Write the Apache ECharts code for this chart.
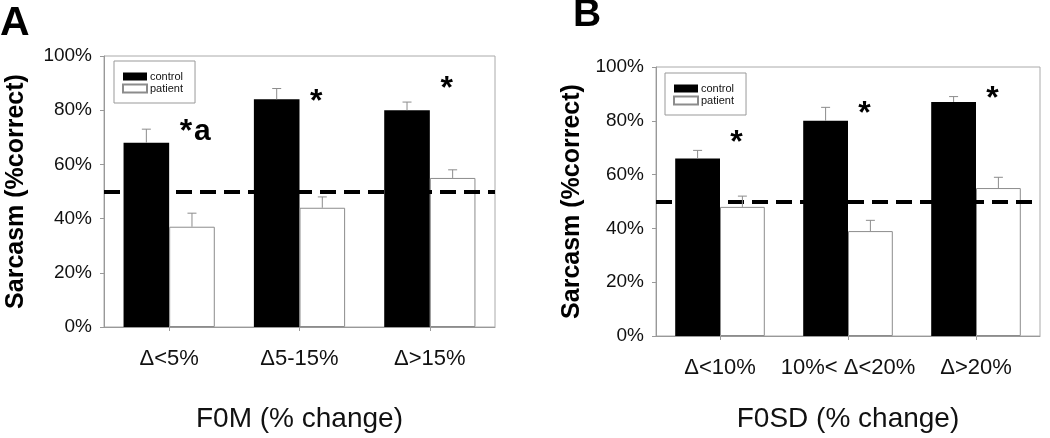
<!DOCTYPE html>
<html>
<head>
<meta charset="utf-8">
<script src="https://cdn.jsdelivr.net/npm/echarts@6/dist/echarts.min.js"></script>
<style>
html,body{margin:0;padding:0;background:#fff;}
#c{width:1050px;height:438px;}
</style>
</head>
<body>
<div id="c"></div>
<script>
// ---- data ----
const catsA = ['Δ<5%', 'Δ5-15%', 'Δ>15%'];
const controlA = [68, 84, 80];
const controlA_errTop = [73, 88, 83];
const patientA = [37, 44, 55];
const patientA_errTop = [42, 48, 58];
const sigA = ['*a', '*', '*'];
const sigA_y = [68.4, 79.5, 84.4];

const catsB = ['Δ<10%', '10%< Δ<20%', 'Δ>20%'];
const controlB = [66, 80, 87];
const controlB_errTop = [69, 85, 89];
const patientB = [48, 39, 55];
const patientB_errTop = [52, 43, 59];
const sigB = ['*', '*', '*'];
const sigB_y = [68.4, 79, 84.6];

const chanceLevel = 50;
const yTicks = [0, 20, 40, 60, 80, 100];

const FONT = 'Liberation Sans, Arial, Helvetica, sans-serif';
const chart = echarts.init(document.getElementById('c'), null, {renderer: 'canvas'});

function errSeries(gi, side, vals, tops) {
  return {
    type: 'custom', xAxisIndex: gi, yAxisIndex: gi, z: 5, silent: true,
    data: vals.map((v, i) => [i, v, tops[i]]),
    renderItem: function (params, api) {
      const i = api.value(0);
      const p0 = api.coord([i, api.value(1)]);
      const p1 = api.coord([i, api.value(2)]);
      const w = api.size([1, 0])[0];
      const x = p0[0] + side * w * 0.175;
      const st = {stroke: '#8c8c8c', lineWidth: 1};
      return {type: 'group', children: [
        {type: 'line', shape: {x1: x, y1: p0[1], x2: x, y2: p1[1]}, style: st},
        {type: 'line', shape: {x1: x - 4.5, y1: p1[1], x2: x + 4.5, y2: p1[1]}, style: st}
      ]};
    }
  };
}

// sig values are the text baselines; text drawn top-aligned, shifted up by the ascent
function sigSeries(gi, labels, ys) {
  return {
    type: 'custom', xAxisIndex: gi, yAxisIndex: gi, z: 6, silent: true,
    data: ys.map((v, i) => [i, v]),
    renderItem: function (params, api) {
      const i = api.value(0);
      const p = api.coord([i, api.value(1)]);
      const w = api.size([1, 0])[0];
      const x = p[0] + w * 0.175 - 6;
      const y = p[1] - 25;
      const lab = labels[i];
      const kids = [{type: 'text', x: x, y: y, style: {text: lab.charAt(0), font: 'bold 32px ' + FONT, fill: '#000', textAlign: 'center', textVerticalAlign: 'top'}}];
      if (lab.length > 1) {
        kids.push({type: 'text', x: x + 8, y: y, style: {text: lab.slice(1), font: 'bold 30px ' + FONT, fill: '#000', textAlign: 'left', textVerticalAlign: 'top'}});
      }
      return {type: 'group', children: kids};
    }
  };
}

function xAxisCfg(gi, cats, name, nameGap) {
  return {
    type: 'category', gridIndex: gi, data: cats,
    name: name, nameLocation: 'middle', nameGap: nameGap,
    nameTextStyle: {fontFamily: FONT, fontSize: 28, color: '#111'},
    axisLine: {lineStyle: {color: '#999', width: 1}},
    axisTick: {show: true, alignWithLabel: true, length: 4, lineStyle: {color: '#999'}},
    axisLabel: {fontFamily: FONT, fontSize: 22, color: '#111', margin: 21, interval: 0}
  };
}
function yAxisCfg(gi, nameGap) {
  return {
    type: 'value', gridIndex: gi, min: 0, max: 100, interval: 20,
    name: 'Sarcasm (%correct)', nameLocation: 'middle', nameGap: nameGap,
    nameTextStyle: {fontFamily: FONT, fontSize: 25, fontWeight: 'bold', color: '#000'},
    axisLine: {show: true, lineStyle: {color: '#999', width: 1}},
    axisTick: {show: true, length: 4, lineStyle: {color: '#999'}},
    splitLine: {show: false},
    axisLabel: {fontFamily: FONT, fontSize: 19, color: '#111', margin: 12,
      formatter: v => (yTicks.indexOf(v) >= 0 ? v + '%' : '')}
  };
}
function legendCfg(left, top) {
  return {
    left: left, top: top, orient: 'vertical', data: ['control', 'patient'],
    icon: 'rect', itemWidth: 24, itemHeight: 8, itemGap: 1,
    borderColor: '#999', borderWidth: 1, padding: [10, 12, 9, 8],
    textStyle: {fontFamily: FONT, fontSize: 11, color: '#111', padding: [0, 0, 0, -2]},
    selectedMode: false
  };
}
const markLineCfg = {
  silent: true, symbol: 'none', label: {show: false},
  lineStyle: {color: '#000', type: [16, 8], width: 4},
  data: [{yAxis: chanceLevel}]
};

chart.setOption({
  animation: false,
  backgroundColor: '#fff',
  textStyle: {fontFamily: FONT},
  grid: [
    {left: 104, top: 56, width: 391, height: 275, show: true, borderColor: '#aaa', borderWidth: 1},
    {left: 656, top: 67, width: 384, height: 275, show: true, borderColor: '#aaa', borderWidth: 1}
  ],
  xAxis: [xAxisCfg(0, catsA, 'F0M (% change)', 78), xAxisCfg(1, catsB, 'F0SD (% change)', 69)],
  yAxis: [yAxisCfg(0, 75), yAxisCfg(1, 71)],
  legend: [legendCfg(114, 61), legendCfg(665, 73)],
  graphic: [
    {type: 'text', left: 0, top: 3, style: {text: 'A', font: 'bold 41px ' + FONT, fill: '#000'}},
    {type: 'text', left: 573, top: -4, style: {text: 'B', font: 'bold 39px ' + FONT, fill: '#000'}}
  ],
  series: [
    {name: 'control', type: 'bar', xAxisIndex: 0, yAxisIndex: 0, data: controlA, barGap: '0%', barCategoryGap: '30%', itemStyle: {color: '#000'}},
    {name: 'patient', type: 'bar', xAxisIndex: 0, yAxisIndex: 0, data: patientA, barGap: '0%', barCategoryGap: '30%', itemStyle: {color: '#fff', borderColor: '#8c8c8c', borderWidth: 1}},
    {name: 'control', type: 'bar', xAxisIndex: 1, yAxisIndex: 1, data: controlB, barGap: '0%', barCategoryGap: '30%', itemStyle: {color: '#000'}},
    {name: 'patient', type: 'bar', xAxisIndex: 1, yAxisIndex: 1, data: patientB, barGap: '0%', barCategoryGap: '30%', itemStyle: {color: '#fff', borderColor: '#8c8c8c', borderWidth: 1}},
    errSeries(0, -1, controlA, controlA_errTop),
    errSeries(0, 1, patientA, patientA_errTop),
    errSeries(1, -1, controlB, controlB_errTop),
    errSeries(1, 1, patientB, patientB_errTop),
    Object.assign(sigSeries(0, sigA, sigA_y), {markLine: markLineCfg}),
    Object.assign(sigSeries(1, sigB, sigB_y), {markLine: markLineCfg})
  ]
});
</script>
</body>
</html>
